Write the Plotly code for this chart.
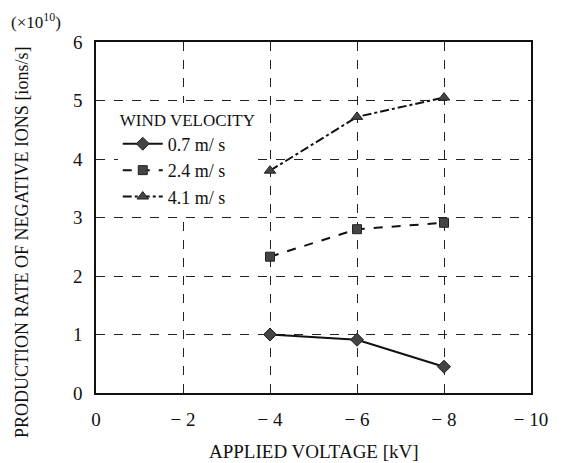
import plotly.graph_objects as go

voltage = [-4, -6, -8]
v07 = [1.0, 0.91, 0.45]
v24 = [2.33, 2.8, 2.91]
v41 = [3.8, 4.72, 5.05]
series_names = ["0.7 m/ s", "2.4 m/ s", "4.1 m/ s"]
x_ticks = [0, -2, -4, -6, -8, -10]
x_ticktext = ["0", "\u2212 2", "\u2212 4", "\u2212 6", "\u2212 8", "\u2212 10"]
y_ticks = [0, 1, 2, 3, 4, 5, 6]

FONT = "Liberation Serif"
fig = go.Figure()
fig.add_trace(go.Scatter(x=voltage, y=v07, name=series_names[0], mode="lines+markers",
                         line=dict(color="#111", width=2, dash="solid"),
                         marker=dict(symbol="diamond", size=10, color="#444", line=dict(color="#222", width=1))))
fig.add_trace(go.Scatter(x=voltage, y=v24, name=series_names[1], mode="lines+markers",
                         line=dict(color="#111", width=2, dash="dash"),
                         marker=dict(symbol="square", size=9, color="#444", line=dict(color="#222", width=1))))
fig.add_trace(go.Scatter(x=voltage, y=v41, name=series_names[2], mode="lines+markers",
                         line=dict(color="#111", width=2, dash="dashdot"),
                         marker=dict(symbol="triangle-up", size=10, color="#444", line=dict(color="#222", width=1))))

fig.update_layout(
    width=563, height=463,
    margin=dict(l=96, r=32, t=42, b=70, autoexpand=False),
    paper_bgcolor="white", plot_bgcolor="white",
    font=dict(family=FONT, size=18, color="#111"),
    showlegend=True,
    legend=dict(x=0.05, y=0.825, xanchor="left", yanchor="top",
                title=dict(text="WIND VELOCITY", font=dict(size=17, family=FONT)),
                font=dict(size=18, family=FONT), bgcolor="rgba(255,255,255,1)",
                tracegroupgap=0, itemwidth=40),
    xaxis=dict(range=[0, -10], tickvals=x_ticks, ticktext=x_ticktext, automargin=False,
               showgrid=True, gridcolor="#222", griddash="dash", gridwidth=1,
               showline=True, linecolor="#111", linewidth=1.5, mirror=True,
               zeroline=False, ticks="", ticklabelstandoff=8, tickfont=dict(size=19, family=FONT)),
    yaxis=dict(range=[0, 6], tickvals=y_ticks, automargin=False,
               showgrid=True, gridcolor="#222", griddash="dash", gridwidth=1,
               showline=True, linecolor="#111", linewidth=1.5, mirror=True,
               zeroline=False, ticks="", ticklabelstandoff=8, tickfont=dict(size=19, family=FONT)),
    annotations=[
        dict(text="(\u00d710<sup>10</sup>)", xref="paper", yref="paper", x=-0.2, y=1.06,
             xanchor="left", yanchor="middle", showarrow=False, font=dict(size=17, family=FONT)),
        dict(text="PRODUCTION RATE OF NEGATIVE IONS [ions/s]", xref="paper", yref="paper",
             x=-0.17, y=0.43, xanchor="center", yanchor="middle", textangle=-90, showarrow=False,
             font=dict(size=18, family=FONT)),
        dict(text="APPLIED VOLTAGE [kV]", xref="paper", yref="paper",
             x=0.5, y=-0.168, xanchor="center", yanchor="middle", showarrow=False,
             font=dict(size=19, family=FONT)),
    ],
)
fig.write_html("out.html")
